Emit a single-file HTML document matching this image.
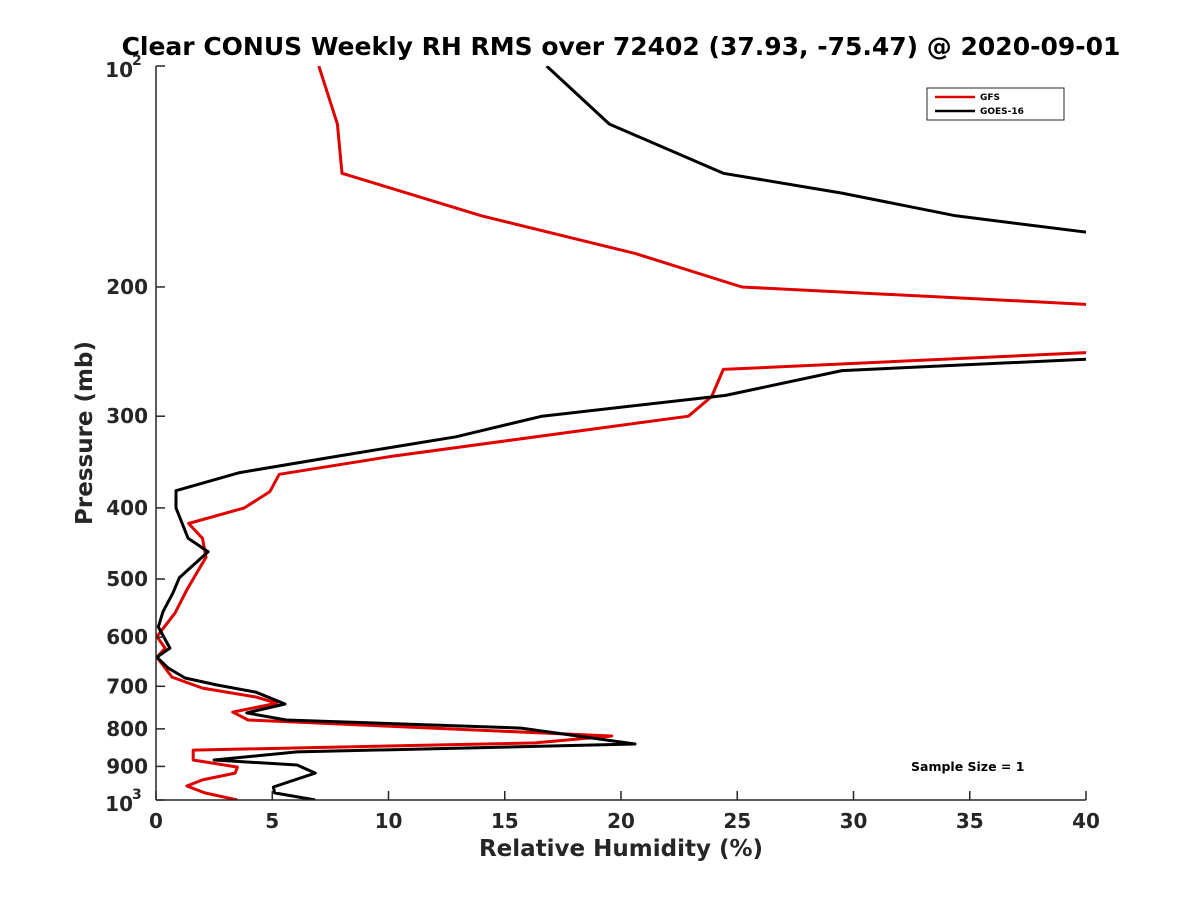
<!DOCTYPE html>
<html><head><meta charset="utf-8"><style>
body{margin:0;background:#fff;}
svg{display:block;font-family:"DejaVu Sans","Liberation Sans",sans-serif;font-weight:bold;}
</style></head><body>
<svg id="chart" width="1200" height="900">
<rect width="1200" height="900" fill="#fff"/>
<text x="621" y="55" text-anchor="middle" font-size="25" fill="#000">Clear CONUS Weekly RH RMS over 72402 (37.93, -75.47) @ 2020-09-01</text>
<defs><clipPath id="plotclip"><rect x="156" y="66" width="930" height="734"/></clipPath></defs>
<g id="series" clip-path="url(#plotclip)"></g>
<g id="axes"></g>
<text x="621" y="856" text-anchor="middle" font-size="23" fill="#262626">Relative Humidity (%)</text>
<text transform="translate(92,433) rotate(-90)" text-anchor="middle" font-size="23" fill="#262626">Pressure (mb)</text>
<g>
<rect x="927" y="88" width="137" height="32" fill="#fff" stroke="#262626" stroke-width="1"/>
<line x1="935" y1="97" x2="975" y2="97" stroke="#e00000" stroke-width="2.5"/>
<text x="980" y="100" font-size="9" fill="#000">GFS</text>
<line x1="935" y1="111" x2="975" y2="111" stroke="#000" stroke-width="2.5"/>
<text x="980" y="114" font-size="9" fill="#000">GOES-16</text>
</g>
<text x="911" y="771" font-size="12.5" fill="#000">Sample Size = 1</text>
</svg>
<script>
const gfsPressure=[100,120,140,160,180,200,212,245,259,282,300,340,360,380,400,420,440,467,490,517,556,599,621,639,680,704,724,738,759,778,818,836,855,882,902,919,939,957,978,1000];
const gfsRH=[7.0,7.8,8.0,14.0,20.6,25.2,41,41,24.4,23.9,22.9,10.2,5.3,4.9,3.8,1.4,2.0,2.15,1.76,1.33,0.82,0.04,0.39,0.04,0.69,2.0,4.3,5.2,3.3,3.96,19.6,16.3,1.6,1.6,3.5,3.4,2.0,1.33,2.1,3.5];
const goesPressure=[100,120,140,149,160,170,250,260,281,300,320,341,358,379,400,440,459,498,522,554,581,621,639,661,682,697,713,740,761,778,798,839,860,882,896,919,960,978,1000];
const goesRH=[16.8,19.5,24.4,29.5,34.4,41,41,29.5,24.5,16.6,12.9,7.6,3.6,0.86,0.86,1.38,2.24,1.0,0.73,0.3,0.1,0.6,0.04,0.52,1.25,2.6,4.3,5.55,3.9,5.6,15.7,20.6,6.07,2.5,6.07,6.85,5.05,5.1,6.85];
const xTicks=[0,5,10,15,20,25,30,35,40];
const yTicks=[100,200,300,400,500,600,700,800,900,1000];
const yTickLabels=["10|2","200","300","400","500","600","700","800","900","10|3"];

const X0=156,X1=1086,Y0=66,Y1=800;
const xScale=v=>X0+(v-0)/(40-0)*(X1-X0);
const yScale=p=>Y0+(Math.log10(p)-2)/(3-2)*(Y1-Y0);
const NS="http://www.w3.org/2000/svg";
function mk(tag,attrs,parent){const e=document.createElementNS(NS,tag);for(const k in attrs)e.setAttribute(k,attrs[k]);parent.appendChild(e);return e;}

const series=document.getElementById('series');
function drawLine(ps,vs,color,name){
  const d=ps.map((p,i)=>(i?'L':'M')+xScale(vs[i]).toFixed(1)+','+yScale(p).toFixed(1)).join('');
  const path=mk('path',{d:d,fill:'none',stroke:color,'stroke-width':3,'stroke-linejoin':'round'},series);
  
  
}
drawLine(gfsPressure,gfsRH,'#e00000','gfs-line');
drawLine(goesPressure,goesRH,'#000000','goes16-line');

const axes=document.getElementById('axes');
const la=mk('line',{x1:X0,y1:Y0,x2:X0,y2:Y1,stroke:'#262626','stroke-width':1.5},axes);


const ba=mk('line',{x1:X0,y1:Y1,x2:X1,y2:Y1,stroke:'#262626','stroke-width':1.5},axes);


xTicks.forEach(v=>{
  const x=xScale(v);
  const t=mk('line',{x1:x,y1:Y1,x2:x,y2:Y1-9,stroke:'#262626','stroke-width':1.5},axes);
  
  
  const l=mk('text',{x:x,y:Y1+28,'text-anchor':'middle','font-size':20,fill:'#262626'},axes);
  l.textContent=String(v);
  
  
});
yTicks.forEach((p,i)=>{
  const y=yScale(p);
  const t=mk('line',{x1:X0,y1:y,x2:X0+9,y2:y,stroke:'#262626','stroke-width':1.5},axes);
  
  
  const l=mk('text',{x:X0-8,y:y+7,'text-anchor':'end','font-size':20,fill:'#262626'},axes);
  const lab=yTickLabels[i];
  if(lab.includes('|')){
    const [b,e]=lab.split('|');
    l.setAttribute('x',X0-23);
    l.setAttribute('y',y+11);
    l.textContent=b;
    const s=mk('text',{x:X0-24,y:y-1,'font-size':14,fill:'#262626'},axes);
    s.textContent=e;
    
    
  } else l.textContent=lab;
  
  
});
</script>
</body></html>
